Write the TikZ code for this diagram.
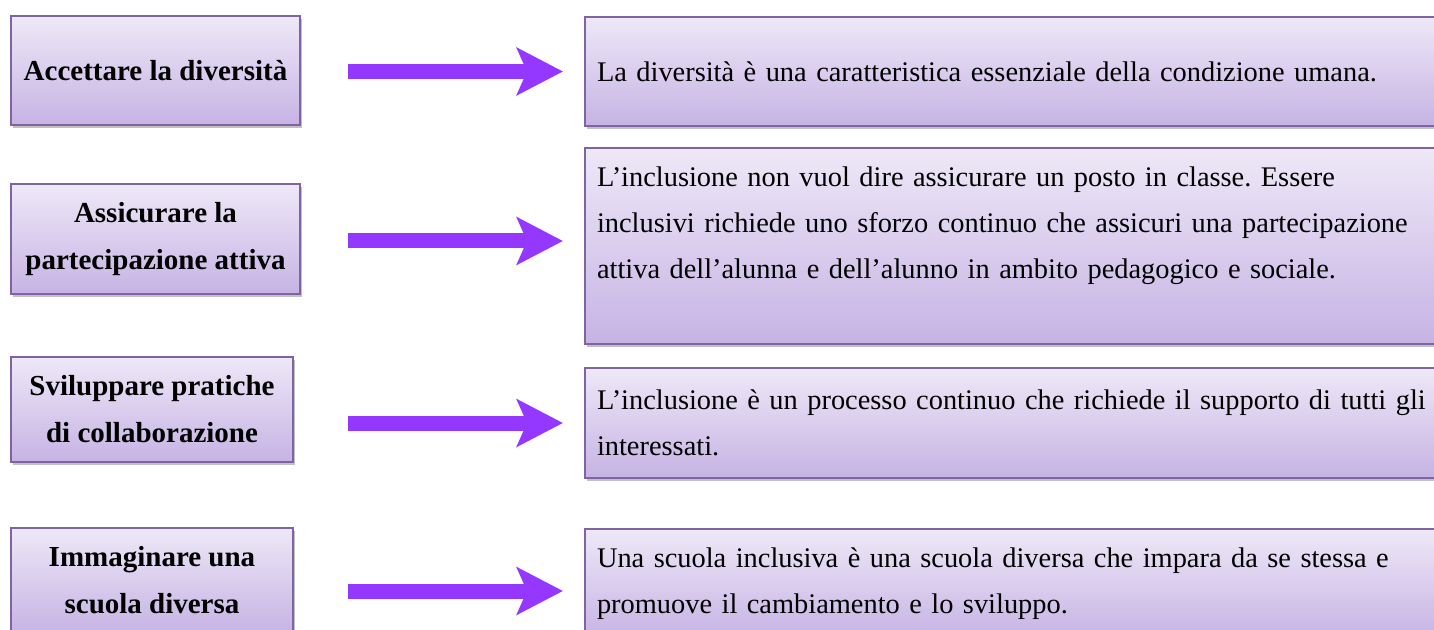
\documentclass[tikz,border=0pt]{standalone}
\usepackage{fontspec}
\setmainfont{Liberation Serif}
\usepackage{tikz}
\usetikzlibrary{arrows.meta,shadows}
\definecolor{edge}{HTML}{8064A2}
\definecolor{lilactop}{HTML}{EEE8F7}
\definecolor{lilacbot}{HTML}{C6B3E4}
\definecolor{violet}{HTML}{9438FF}
\tikzset{
  card/.style={
    draw=edge, line width=1pt, top color=lilactop, bottom color=lilacbot,
    drop shadow={shadow xshift=1.2pt, shadow yshift=-1.6pt, opacity=.35, fill=black!70},
    inner sep=0pt
  },
  keyword/.style={card, minimum width=144.5pt, align=center,
    font=\fontsize{14.5}{23.5}\selectfont\bfseries},
  statement/.style={card, anchor=north west, text width=450pt, inner xsep=6pt,
    align=left, font=\fontsize{14.2}{23}\selectfont\frenchspacing},
  bigarrow/.style={-{Stealth[length=23pt,width=23.5pt,inset=5pt]}, draw=violet, line width=7.5pt}
}

\begin{document}
\begin{tikzpicture}[x=0.5pt,y=0.5pt]
  \useasboundingbox (0,0) rectangle (1434,-630);

  % left column
  \node[keyword, minimum height=54.5pt] (l1) at (155.5,-70.5) {Accettare la diversità};
  \node[keyword, minimum height=55pt] (l2) at (155.5,-239) {Assicurare la\\partecipazione attiva};
  \node[keyword, minimum width=141pt, minimum height=52.5pt] (l3) at (152,-409.5) {Sviluppare pratiche\\di collaborazione};
  \node[keyword, minimum width=141pt, minimum height=52.5pt] (l4) at (152,-580.5) {Immaginare una\\scuola diversa};

  % right column
  \node[statement, minimum height=54.5pt] (r1) at (584,-16) {La diversità è una caratteristica essenziale della condizione umana.};
  \node[statement, minimum height=98pt] (r2) at (584,-147) {L’inclusione non vuol dire assicurare un posto in classe. Essere\\
    inclusivi richiede uno sforzo continuo che assicuri una partecipazione\\
    attiva dell’alunna e dell’alunno in ambito pedagogico e sociale.\\ \mbox{}};
  \node[statement, minimum height=55pt] (r3) at (584,-367) {L’inclusione è un processo continuo che richiede il supporto di tutti gli\\
    interessati.};
  \node[statement, minimum height=55pt] (r4) at (584,-528) {Una scuola inclusiva è una scuola diversa che impara da se stessa e\\
    promuove il cambiamento e lo sviluppo.};

  \foreach \i/\dy/\dx in {1/0/23.5,2/2.5/23.5,3/0/27,4/-3.5/27} {
    \coordinate (a\i) at ([yshift=\dy pt]r\i.west);
    \draw[bigarrow] ([xshift=\dx pt]l\i.east |- a\i) -- ([xshift=-10.5pt]a\i);
  }
\end{tikzpicture}
\end{document}
